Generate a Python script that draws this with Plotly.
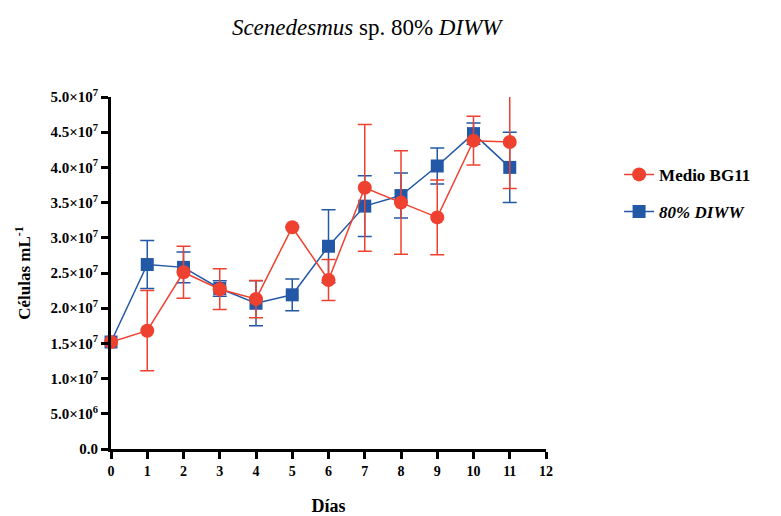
import plotly.graph_objects as go

days = list(range(12))
bg11_mean = [1.52e7, 1.68e7, 2.51e7, 2.27e7, 2.13e7, 3.15e7, 2.40e7, 3.71e7, 3.50e7, 3.29e7, 4.38e7, 4.36e7]
bg11_err  = [0.0,    0.57e7, 0.37e7, 0.29e7, 0.265e7, 0.0,   0.29e7, 0.90e7, 0.735e7, 0.53e7, 0.345e7, 0.66e7]
diww_mean = [1.52e7, 2.62e7, 2.58e7, 2.28e7, 2.07e7, 2.19e7, 2.88e7, 3.45e7, 3.60e7, 4.02e7, 4.48e7, 4.00e7]
diww_err  = [0.0,    0.34e7, 0.22e7, 0.11e7, 0.32e7, 0.225e7, 0.52e7, 0.43e7, 0.32e7, 0.255e7, 0.15e7, 0.50e7]

y_tickvals = [0, 5e6, 1e7, 1.5e7, 2e7, 2.5e7, 3e7, 3.5e7, 4e7, 4.5e7, 5e7]
y_ticktext = ["0.0", "5.0×10<sup>6</sup>", "1.0×10<sup>7</sup>", "1.5×10<sup>7</sup>", "2.0×10<sup>7</sup>",
              "2.5×10<sup>7</sup>", "3.0×10<sup>7</sup>", "3.5×10<sup>7</sup>", "4.0×10<sup>7</sup>",
              "4.5×10<sup>7</sup>", "5.0×10<sup>7</sup>"]
x_tickvals = list(range(13))

RED = "#EF4130"
BLUE = "#2358A6"
FONT = "Liberation Serif, Times New Roman, serif"

fig = go.Figure()
fig.add_trace(go.Scatter(
    x=days, y=diww_mean, name="<b><i>80% DIWW</i></b>", mode="lines+markers",
    line=dict(color=BLUE, width=1.5),
    marker=dict(symbol="square", size=13, color=BLUE),
    error_y=dict(type="data", array=diww_err, visible=True, color=BLUE, thickness=1.5, width=7),
    cliponaxis=False, legendrank=2, legendgroup="b",
))
fig.add_trace(go.Scatter(
    x=days, y=bg11_mean, name="<b>Medio BG11</b>", mode="lines+markers",
    line=dict(color=RED, width=1.5),
    marker=dict(symbol="circle", size=14, color=RED),
    error_y=dict(type="data", array=bg11_err, visible=True, color=RED, thickness=1.5, width=7),
    cliponaxis=False, legendrank=1, legendgroup="a",
))

axis_common = dict(showline=True, linecolor="black", linewidth=3, ticks="outside",
                   tickcolor="black", tickwidth=3, ticklen=7, showgrid=False, zeroline=False,
                   automargin=False)

fig.update_layout(
    width=773, height=508,
    margin=dict(l=103, r=235, t=89, b=67),
    plot_bgcolor="white", paper_bgcolor="white",
    font=dict(family=FONT, color="black"),
    title=dict(text="<i>Scenedesmus</i> sp. 80% <i>DIWW</i>", x=0.464, xanchor="center",
               y=0.962, yanchor="middle", font=dict(family=FONT, size=23, color="black")),
    xaxis=dict(range=[0, 12], tickvals=x_tickvals,
               ticktext=[f"<b>{v}</b>" for v in x_tickvals],
               tickfont=dict(family=FONT, size=14, color="black"),
               title=dict(text="<b>Días</b>", font=dict(family=FONT, size=18), standoff=22),
               **axis_common),
    yaxis=dict(range=[0, 5e7], tickvals=y_tickvals,
               ticktext=[f"<b>{t}</b>" for t in y_ticktext],
               tickfont=dict(family=FONT, size=15, color="black"),
               title=dict(text="<b>Células mL<sup>-1</sup></b>", font=dict(family=FONT, size=17), standoff=16),
               **axis_common),
    legend=dict(x=1.168, y=0.83, xanchor="left", yanchor="top", tracegroupgap=12,
                font=dict(family=FONT, size=17, color="black"), bgcolor="rgba(0,0,0,0)"),
)

fig.write_html("out.html")
